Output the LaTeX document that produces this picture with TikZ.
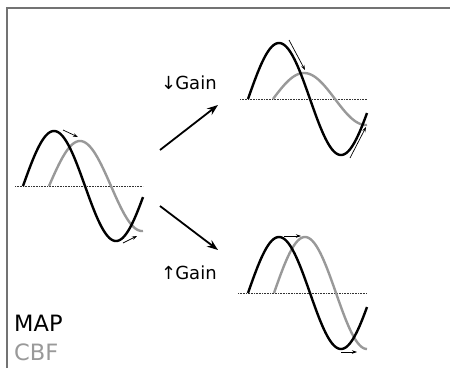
\documentclass[tikz,border=0pt]{standalone}
\usepackage{fontspec}
\setmainfont{DejaVu Sans}
\usetikzlibrary{arrows.meta}

\definecolor{cbfgray}{gray}{0.6}
\definecolor{framegray}{gray}{0.45}

\tikzset{
  map wave/.style={line width=2.4pt, black, line join=round},
  cbf wave/.style={line width=2.4pt, cbfgray, line join=round},
  zero line/.style={densely dotted, line width=0.6pt, black!80},
  shift arrow/.style={-{Stealth[length=5pt, width=3.5pt]}, line width=0.7pt},
  gain arrow/.style={-{Stealth[length=11pt, width=8pt]}, line width=1.8pt},
}

% one cycle of a sine: start x, baseline y, amplitude, length
\newcommand{\sinewave}[5]{%
  \draw[#5] plot[domain=0:#4, samples=90] ({#1+\x}, {#2-#3*sin(2.9032*\x)});
}

\begin{document}
\begin{tikzpicture}[x=1pt, y=-1pt, font=\fontsize{18}{21}\selectfont]
  \useasboundingbox (0,0) rectangle (450,368);
  \fill[white] (0,0) rectangle (450,368);
  % frame
  \draw[framegray, line width=2pt] (7,368) -- (7,8) -- (450,8);

  % left: before the change
  \draw[zero line] (15,186) -- (143,186);
  \sinewave{49}{186}{45}{94}{cbf wave}
  \sinewave{23}{186}{55}{120}{map wave}
  \coordinate (lpk0) at (63,130);  \coordinate (lpk1) at (78,137);
  \coordinate (ltr0) at (123,243); \coordinate (ltr1) at (137,236);
  \draw[shift arrow] (lpk0) -- (lpk1);
  \draw[shift arrow] (ltr0) -- (ltr1);

  % top right: gain down
  \draw[zero line] (240,99) -- (367,99);
  \sinewave{273}{99}{26}{94}{cbf wave}
  \sinewave{248}{99}{56}{119}{map wave}
  \coordinate (upk0) at (289,40);  \coordinate (upk1) at (305,70);
  \coordinate (utr0) at (350,158); \coordinate (utr1) at (366,127);
  \draw[shift arrow] (upk0) -- (upk1);
  \draw[shift arrow] (utr0) -- (utr1);

  % bottom right: gain up
  \draw[zero line] (238,293) -- (367,293);
  \sinewave{274}{293}{56}{93}{cbf wave}
  \sinewave{248}{293}{56}{119}{map wave}
  \coordinate (dpk0) at (284,236); \coordinate (dpk1) at (301,236);
  \coordinate (dtr0) at (341,352); \coordinate (dtr1) at (357,352);
  \draw[shift arrow] (dpk0) -- (dpk1);
  \draw[shift arrow] (dtr0) -- (dtr1);

  % gain arrows
  \coordinate (split) at (160,150);
  \coordinate (split2) at (160,206);
  \coordinate (lowgain) at (218,105);
  \coordinate (highgain) at (218,250);
  \draw[gain arrow] (split) -- (lowgain);
  \draw[gain arrow] (split2) -- (highgain);
  \node[anchor=west, inner sep=0pt] (gaindown) at (161,83) {↓\kern-1ptGain};
  \node[anchor=west, inner sep=0pt] (gainup) at (161,273) {↑\kern-1ptGain};

  % legend
  \node[anchor=west, inner sep=0pt, font=\fontsize{22.5}{25}\selectfont] (maplabel) at (14,323) {MAP};
  \node[anchor=west, inner sep=0pt, font=\fontsize{22.5}{25}\selectfont, text=cbfgray] (cbflabel) at (14,352) {CBF};
\end{tikzpicture}
\end{document}
